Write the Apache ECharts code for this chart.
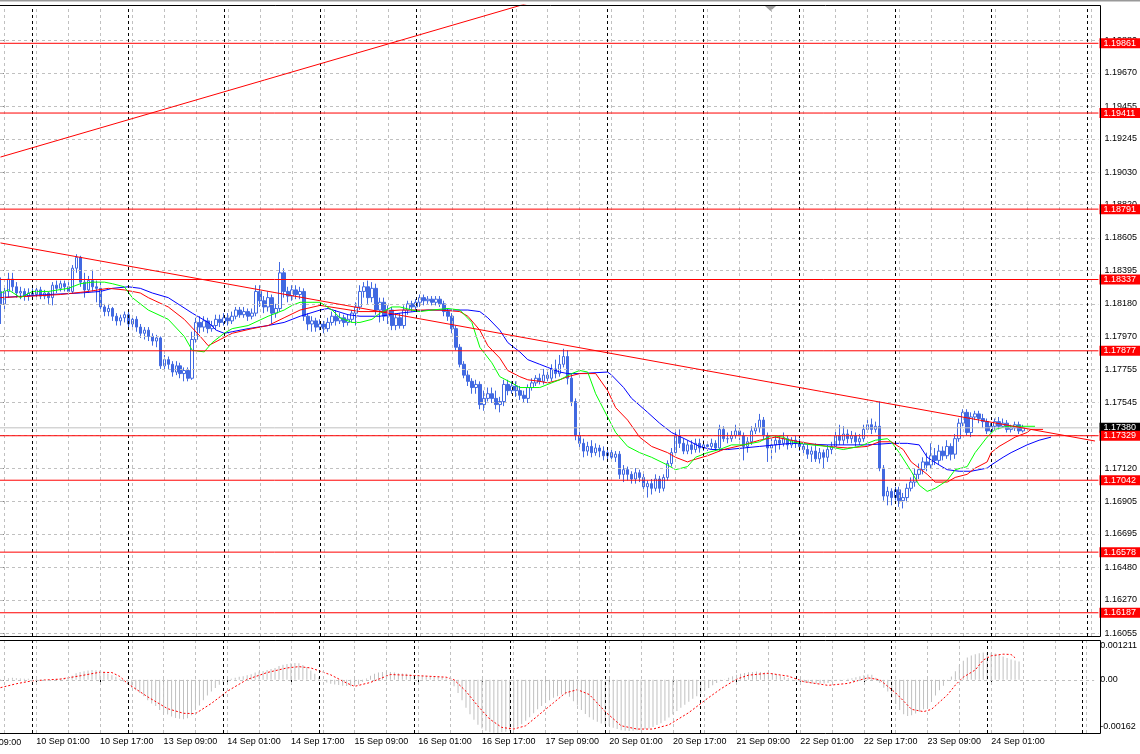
<!DOCTYPE html>
<html>
<head>
<meta charset="utf-8">
<script src="https://cdn.jsdelivr.net/npm/echarts@6/dist/echarts.min.js"></script>
<style>html,body{margin:0;padding:0;background:#fff;}#c{width:1140px;height:754px;}</style>
</head>
<body>
<div id="c"></div>
<script>
// ---------- DATA (EURUSD H1, bar index 0 = 9 Sep 16:00) ----------
const opens = [
1.1826,1.1818,1.1826,1.1834,1.1829,1.1825,1.1826,1.1823,1.1825,1.1824,
1.1827,1.1823,1.1825,1.1822,1.1830,1.1828,1.1831,1.1829,1.1826,1.1841,
1.1848,1.1832,1.1827,1.1833,1.1829,1.1828,1.1816,1.1813,1.1815,1.1810,
1.1807,1.1809,1.1811,1.1805,1.1808,1.1803,1.1799,1.1801,1.1797,1.1794,
1.1796,1.1778,1.1782,1.1779,1.1774,1.1778,1.1773,1.1775,1.1770,1.1795,
1.1806,1.1803,1.1807,1.1802,1.1804,1.1808,1.1806,1.1809,1.1807,1.1810,
1.1814,1.1811,1.1813,1.1810,1.1812,1.1826,1.1820,1.1816,1.1822,1.1812,
1.1815,1.1838,1.1826,1.1823,1.1827,1.1824,1.1826,1.1810,1.1805,1.1807,
1.1803,1.1805,1.1802,1.1806,1.1810,1.1807,1.1809,1.1806,1.1808,1.1812,
1.1816,1.1826,1.1829,1.1822,1.1828,1.1814,1.1819,1.1810,1.1814,1.1804,
1.1809,1.1804,1.1814,1.1818,1.1816,1.1819,1.1822,1.1820,1.1821,1.1819,
1.1821,1.1818,1.1813,1.1810,1.1802,1.1790,1.1779,1.1772,1.1768,1.1764,
1.1766,1.1753,1.1757,1.1760,1.1757,1.1753,1.1755,1.1766,1.1762,1.1765,
1.1762,1.1759,1.1757,1.1764,1.1767,1.1770,1.1768,1.1772,1.1770,1.1776,
1.1773,1.1779,1.1784,1.1770,1.1755,1.1733,1.1728,1.1723,1.1726,1.1722,
1.1725,1.1723,1.1720,1.1722,1.1719,1.1721,1.1708,1.1711,1.1708,1.1705,
1.1709,1.1706,1.1700,1.1702,1.1699,1.1705,1.1699,1.1706,1.1715,1.1722,
1.1733,1.1728,1.1723,1.1727,1.1724,1.1728,1.1725,1.1727,1.1726,1.1728,
1.1725,1.1737,1.1731,1.1731,1.1733,1.1736,1.1733,1.1726,1.1729,1.1736,
1.1738,1.1743,1.1733,1.1725,1.1727,1.1730,1.1728,1.1731,1.1727,1.1730,
1.1728,1.1726,1.1724,1.1721,1.1723,1.1718,1.1722,1.1719,1.1724,1.1726,
1.1733,1.1730,1.1734,1.1731,1.1733,1.1729,1.1731,1.1737,1.1740,1.1737,
1.1739,1.1712,1.1694,1.1697,1.1693,1.1698,1.1691,1.1693,1.1699,1.1703,
1.1708,1.1711,1.1716,1.1714,1.1720,1.1717,1.1723,1.1720,1.1726,1.1721,
1.1731,1.1741,1.1748,1.1735,1.1745,1.1747,1.1744,1.1742,1.1736,1.1739,
1.1742,1.1739,1.1741,1.1737,1.1738,1.1740,1.1736];
const highs = [
1.1835,1.1830,1.1838,1.1838,1.1832,1.1829,1.1828,1.1828,1.1828,1.1829,
1.1829,1.1827,1.1826,1.1832,1.1833,1.1833,1.1833,1.1832,1.1843,1.1850,
1.1849,1.1838,1.1836,1.1840,1.1833,1.1834,1.1818,1.1818,1.1816,1.1812,
1.1811,1.1813,1.1813,1.1810,1.1810,1.1805,1.1803,1.1803,1.1799,1.1798,
1.1797,1.1785,1.1784,1.1781,1.1781,1.1780,1.1777,1.1777,1.1800,1.1809,
1.1810,1.1810,1.1809,1.1807,1.1811,1.1811,1.1812,1.1812,1.1813,1.1816,
1.1816,1.1816,1.1815,1.1815,1.1830,1.1830,1.1823,1.1826,1.1824,1.1818,
1.1845,1.1841,1.1829,1.1830,1.1830,1.1829,1.1828,1.1812,1.1810,1.1809,
1.1808,1.1807,1.1809,1.1813,1.1814,1.1812,1.1811,1.1811,1.1814,1.1819,
1.1830,1.1832,1.1833,1.1832,1.1831,1.1822,1.1822,1.1817,1.1816,1.1812,
1.1812,1.1817,1.1820,1.1820,1.1821,1.1824,1.1824,1.1823,1.1823,1.1823,
1.1823,1.1820,1.1815,1.1812,1.1804,1.1792,1.1781,1.1775,1.1770,1.1769,
1.1768,1.1762,1.1764,1.1764,1.1762,1.1758,1.1769,1.1769,1.1768,1.1768,
1.1765,1.1762,1.1766,1.1770,1.1772,1.1773,1.1776,1.1776,1.1779,1.1782,
1.1785,1.1789,1.1788,1.1773,1.1757,1.1738,1.1731,1.1729,1.1730,1.1728,
1.1727,1.1726,1.1725,1.1724,1.1723,1.1723,1.1714,1.1713,1.1710,1.1712,
1.1711,1.1709,1.1704,1.1705,1.1708,1.1707,1.1708,1.1717,1.1725,1.1736,
1.1737,1.1731,1.1730,1.1730,1.1731,1.1731,1.1730,1.1729,1.1731,1.1730,
1.1740,1.1739,1.1735,1.1736,1.1740,1.1738,1.1735,1.1732,1.1739,1.1741,
1.1747,1.1745,1.1735,1.1731,1.1733,1.1733,1.1735,1.1733,1.1732,1.1733,
1.1731,1.1728,1.1727,1.1726,1.1728,1.1725,1.1724,1.1727,1.1729,1.1736,
1.1740,1.1739,1.1737,1.1736,1.1735,1.1734,1.1740,1.1743,1.1744,1.1742,
1.1755,1.1714,1.1700,1.1699,1.1700,1.1700,1.1696,1.1702,1.1706,1.1712,
1.1715,1.1719,1.1722,1.1728,1.1725,1.1727,1.1726,1.1730,1.1728,1.1734,
1.1744,1.1750,1.1750,1.1748,1.1749,1.1749,1.1747,1.1744,1.1741,1.1744,
1.1745,1.1744,1.1743,1.1740,1.1742,1.1742,1.1740];
const lows = [
1.1805,1.1814,1.1822,1.1826,1.1822,1.1821,1.1820,1.1820,1.1821,1.1822,
1.1821,1.1821,1.1818,1.1817,1.1825,1.1826,1.1826,1.1824,1.1825,1.1838,
1.1829,1.1822,1.1825,1.1826,1.1819,1.1813,1.1810,1.1810,1.1807,1.1804,
1.1804,1.1806,1.1802,1.1801,1.1800,1.1796,1.1795,1.1794,1.1791,1.1790,
1.1776,1.1775,1.1776,1.1771,1.1772,1.1770,1.1768,1.1768,1.1769,1.1793,
1.1799,1.1800,1.1799,1.1800,1.1801,1.1803,1.1804,1.1804,1.1805,1.1808,
1.1809,1.1809,1.1807,1.1808,1.1810,1.1816,1.1812,1.1813,1.1805,1.1809,
1.1813,1.1822,1.1819,1.1820,1.1821,1.1821,1.1807,1.1801,1.1800,1.1800,
1.1801,1.1799,1.1800,1.1804,1.1804,1.1805,1.1803,1.1804,1.1806,1.1804,
1.1814,1.1822,1.1818,1.1819,1.1811,1.1806,1.1807,1.1805,1.1801,1.1801,
1.1802,1.1802,1.1811,1.1813,1.1814,1.1816,1.1817,1.1818,1.1817,1.1817,
1.1816,1.1810,1.1807,1.1799,1.1788,1.1777,1.1770,1.1765,1.1760,1.1760,
1.1750,1.1749,1.1755,1.1754,1.1750,1.1748,1.1752,1.1759,1.1760,1.1758,
1.1756,1.1754,1.1754,1.1762,1.1765,1.1766,1.1766,1.1767,1.1768,1.1770,
1.1771,1.1777,1.1766,1.1752,1.1730,1.1725,1.1719,1.1720,1.1719,1.1720,
1.1719,1.1717,1.1717,1.1716,1.1716,1.1705,1.1703,1.1704,1.1702,1.1702,
1.1703,1.1697,1.1693,1.1695,1.1697,1.1696,1.1697,1.1704,1.1713,1.1720,
1.1725,1.1721,1.1721,1.1721,1.1722,1.1722,1.1723,1.1723,1.1724,1.1723,
1.1723,1.1729,1.1728,1.1729,1.1731,1.1730,1.1717,1.1722,1.1727,1.1734,
1.1735,1.1730,1.1716,1.1718,1.1722,1.1724,1.1726,1.1724,1.1725,1.1725,
1.1723,1.1721,1.1718,1.1716,1.1716,1.1715,1.1712,1.1716,1.1721,1.1724,
1.1727,1.1727,1.1728,1.1728,1.1726,1.1727,1.1729,1.1735,1.1734,1.1735,
1.1710,1.1691,1.1688,1.1688,1.1691,1.1687,1.1686,1.1690,1.1697,1.1700,
1.1705,1.1708,1.1710,1.1712,1.1714,1.1714,1.1717,1.1718,1.1717,1.1718,
1.1729,1.1739,1.1733,1.1732,1.1743,1.1741,1.1738,1.1734,1.1735,1.1737,
1.1737,1.1738,1.1735,1.1735,1.1736,1.1734,1.1735];
const closes = [
1.1818,1.1826,1.1834,1.1829,1.1825,1.1826,1.1823,1.1825,1.1824,1.1827,
1.1823,1.1825,1.1822,1.1830,1.1828,1.1831,1.1829,1.1826,1.1841,1.1848,
1.1832,1.1827,1.1833,1.1829,1.1828,1.1816,1.1813,1.1815,1.1810,1.1807,
1.1809,1.1811,1.1805,1.1808,1.1803,1.1799,1.1801,1.1797,1.1794,1.1796,
1.1778,1.1782,1.1779,1.1774,1.1778,1.1773,1.1775,1.1770,1.1795,1.1806,
1.1803,1.1807,1.1802,1.1804,1.1808,1.1806,1.1809,1.1807,1.1810,1.1814,
1.1811,1.1813,1.1810,1.1812,1.1826,1.1820,1.1816,1.1822,1.1812,1.1815,
1.1838,1.1826,1.1823,1.1827,1.1824,1.1826,1.1810,1.1805,1.1807,1.1803,
1.1805,1.1802,1.1806,1.1810,1.1807,1.1809,1.1806,1.1808,1.1812,1.1816,
1.1826,1.1829,1.1822,1.1828,1.1814,1.1819,1.1810,1.1814,1.1804,1.1809,
1.1804,1.1814,1.1818,1.1816,1.1819,1.1822,1.1820,1.1821,1.1819,1.1821,
1.1818,1.1813,1.1810,1.1802,1.1790,1.1779,1.1772,1.1768,1.1764,1.1766,
1.1753,1.1757,1.1760,1.1757,1.1753,1.1755,1.1766,1.1762,1.1765,1.1762,
1.1759,1.1757,1.1764,1.1767,1.1770,1.1768,1.1772,1.1770,1.1776,1.1773,
1.1779,1.1784,1.1770,1.1755,1.1733,1.1728,1.1723,1.1726,1.1722,1.1725,
1.1723,1.1720,1.1722,1.1719,1.1721,1.1708,1.1711,1.1708,1.1705,1.1709,
1.1706,1.1700,1.1702,1.1699,1.1705,1.1699,1.1706,1.1715,1.1722,1.1733,
1.1728,1.1723,1.1727,1.1724,1.1728,1.1725,1.1727,1.1726,1.1728,1.1725,
1.1737,1.1731,1.1731,1.1733,1.1736,1.1733,1.1726,1.1729,1.1736,1.1738,
1.1743,1.1733,1.1725,1.1727,1.1730,1.1728,1.1731,1.1727,1.1730,1.1728,
1.1726,1.1724,1.1721,1.1723,1.1718,1.1722,1.1719,1.1724,1.1726,1.1733,
1.1730,1.1734,1.1731,1.1733,1.1729,1.1731,1.1737,1.1740,1.1737,1.1739,
1.1712,1.1694,1.1697,1.1693,1.1698,1.1691,1.1693,1.1699,1.1703,1.1708,
1.1711,1.1716,1.1714,1.1720,1.1717,1.1723,1.1720,1.1726,1.1721,1.1731,
1.1741,1.1748,1.1735,1.1745,1.1747,1.1744,1.1742,1.1736,1.1739,1.1742,
1.1739,1.1741,1.1737,1.1738,1.1740,1.1736,1.1738];

// Alligator lines: [bar, price]
const jawPts = [[0,1.1822],[12,1.1824],[20,1.1825],[25,1.1826],[28,1.1828],[32,1.1829],[35,1.1828],[38,1.1825],[42,1.1822],[45,1.1817],[48,1.1812],[52,1.1806],[54,1.1801],[56,1.1799],[58,1.1800],[62,1.1802],[67,1.1804],[71,1.1806],[75,1.1810],[80,1.1814],[82,1.1815],[87,1.1811],[90,1.1810],[95,1.1810],[100,1.1812],[107,1.1814],[117,1.1814],[120,1.1813],[122,1.1809],[125,1.1801],[127,1.1793],[130,1.1787],[132,1.1782],[135,1.1779],[137,1.1777],[140,1.1774],[142,1.1773],[145,1.1773],[152,1.1774],[153,1.1772],[156,1.1764],[158,1.1757],[162,1.1748],[165,1.1741],[168,1.1735],[172,1.1730],[175,1.1726],[178,1.1724],[182,1.1724],[190,1.1726],[198,1.1728],[207,1.1727],[217,1.1727],[223,1.1728],[227,1.1728],[230,1.1727],[232,1.1719],[235,1.1714],[237,1.1711],[240,1.1710],[243,1.1710],[247,1.1712],[248,1.1714],[251,1.1719],[253,1.1722],[257,1.1727],[260,1.1730],[263,1.1732]];
const teethPts = [[0,1.1822],[8,1.1823],[15,1.1824],[22,1.1826],[27,1.1828],[31,1.1827],[35,1.1825],[37,1.1822],[42,1.1816],[46,1.1808],[50,1.1797],[52,1.1791],[55,1.1795],[58,1.1799],[63,1.1802],[67,1.1804],[71,1.1809],[75,1.1814],[80,1.1817],[85,1.1815],[90,1.1813],[95,1.1813],[100,1.1814],[105,1.1814],[110,1.1814],[115,1.1813],[117,1.1810],[120,1.1801],[122,1.1791],[125,1.1783],[127,1.1775],[130,1.1771],[132,1.1769],[135,1.1768],[137,1.1767],[140,1.1769],[142,1.1771],[145,1.1773],[149,1.1773],[152,1.1762],[154,1.1751],[157,1.1743],[160,1.1732],[163,1.1726],[167,1.1722],[169,1.1719],[172,1.1716],[173,1.1717],[177,1.1720],[181,1.1724],[186,1.1727],[190,1.1730],[194,1.1732],[200,1.1729],[207,1.1726],[212,1.1725],[217,1.1726],[220,1.1729],[223,1.1729],[226,1.1724],[228,1.1716],[232,1.1708],[234,1.1703],[237,1.1703],[239,1.1706],[242,1.1708],[244,1.1712],[247,1.1716],[248,1.1722],[250,1.1726],[252,1.1729],[254,1.1732],[257,1.1735],[258,1.1737],[261,1.1737]];
const lipsPts = [[0,1.1825],[2,1.1827],[5,1.1822],[8,1.1826],[12,1.1826],[17,1.1828],[20,1.1831],[23,1.1832],[26,1.1832],[28,1.1831],[31,1.1829],[33,1.1822],[37,1.1814],[42,1.1808],[46,1.1797],[48,1.1788],[51,1.1787],[53,1.1793],[56,1.1799],[58,1.1802],[62,1.1804],[67,1.1810],[71,1.1814],[73,1.1817],[75,1.1819],[78,1.1819],[80,1.1819],[83,1.1814],[85,1.1809],[88,1.1806],[90,1.1806],[93,1.1808],[95,1.1812],[98,1.1816],[100,1.1816],[103,1.1814],[105,1.1813],[108,1.1814],[112,1.1815],[115,1.1814],[118,1.1806],[120,1.1790],[123,1.1780],[125,1.1771],[128,1.1767],[130,1.1764],[133,1.1764],[135,1.1764],[138,1.1767],[140,1.1769],[143,1.1773],[145,1.1775],[147,1.1774],[149,1.1760],[152,1.1745],[154,1.1735],[157,1.1726],[160,1.1722],[163,1.1719],[167,1.1714],[169,1.1711],[172,1.1713],[174,1.1719],[177,1.1722],[180,1.1724],[183,1.1727],[186,1.1727],[190,1.1729],[193,1.1733],[196,1.1732],[198,1.1729],[203,1.1727],[207,1.1726],[211,1.1724],[215,1.1726],[219,1.1730],[222,1.1731],[223,1.1729],[225,1.1722],[228,1.1710],[230,1.1701],[232,1.1697],[234,1.1699],[237,1.1704],[239,1.1711],[242,1.1713],[244,1.1722],[247,1.1732],[249,1.1737],[252,1.1739],[255,1.1739],[259,1.1739]];

// MACD histogram (one per bar) and signal line
const macdHist = [
0.00002,0.00003,0.00005,0.00006,0.00005,0.00004,0.00003,0.00003,0.00002,0.00002,
0.00001,0.00001,0.00000,0.00001,0.00003,0.00004,0.00005,0.00006,0.00012,0.00020,
0.00024,0.00026,0.00028,0.00030,0.00029,0.00028,0.00024,0.00019,0.00014,0.00009,
0.00003,-0.00006,-0.00015,-0.00024,-0.00032,-0.00040,-0.00050,-0.00062,-0.00072,-0.00080,
-0.00092,-0.00100,-0.00106,-0.00112,-0.00116,-0.00119,-0.00120,-0.00117,-0.00108,-0.00093,
-0.00078,-0.00062,-0.00048,-0.00036,-0.00025,-0.00015,-0.00008,-0.00002,0.00003,0.00006,
0.00009,0.00011,0.00014,0.00017,0.00022,0.00025,0.00027,0.00030,0.00033,0.00036,
0.00042,0.00046,0.00048,0.00050,0.00051,0.00050,0.00045,0.00038,0.00028,0.00018,
0.00008,-0.00002,-0.00008,-0.00012,-0.00014,-0.00016,-0.00018,-0.00019,-0.00020,-0.00019,
-0.00014,-0.00006,0.00004,0.00012,0.00018,0.00022,0.00024,0.00025,0.00024,0.00022,
0.00020,0.00019,0.00018,0.00016,0.00014,0.00013,0.00012,0.00011,0.00010,0.00010,
0.00009,0.00008,0.00005,-0.00003,-0.00020,-0.00040,-0.00062,-0.00085,-0.00105,-0.00122,
-0.00137,-0.00148,-0.00155,-0.00160,-0.00161,-0.00162,-0.00160,-0.00158,-0.00155,-0.00150,
-0.00143,-0.00135,-0.00125,-0.00114,-0.00102,-0.00090,-0.00080,-0.00070,-0.00062,-0.00055,
-0.00050,-0.00045,-0.00045,-0.00052,-0.00065,-0.00078,-0.00092,-0.00104,-0.00114,-0.00122,
-0.00128,-0.00133,-0.00137,-0.00141,-0.00146,-0.00150,-0.00154,-0.00155,-0.00156,-0.00155,
-0.00154,-0.00152,-0.00150,-0.00148,-0.00144,-0.00138,-0.00132,-0.00125,-0.00115,-0.00105,
-0.00095,-0.00085,-0.00076,-0.00067,-0.00058,-0.00050,-0.00042,-0.00033,-0.00025,-0.00017,
-0.00010,-0.00004,0.00001,0.00006,0.00011,0.00015,0.00018,0.00021,0.00023,0.00024,
0.00025,0.00024,0.00022,0.00021,0.00020,0.00017,0.00013,0.00009,0.00005,0.00001,
-0.00003,-0.00006,-0.00008,-0.00010,-0.00011,-0.00012,-0.00012,-0.00011,-0.00010,-0.00007,
-0.00004,-0.00002,0.00001,0.00003,0.00005,0.00008,0.00011,0.00014,0.00016,0.00015,
0.00006,-0.00010,-0.00024,-0.00036,-0.00055,-0.00074,-0.00092,-0.00105,-0.00110,-0.00108,
-0.00103,-0.00097,-0.00090,-0.00083,-0.00068,-0.00048,-0.00032,-0.00018,-0.00004,0.00010,
0.00026,0.00044,0.00058,0.00068,0.00074,0.00078,0.00081,0.00083,0.00083,0.00082,
0.00080,0.00076,0.00071,0.00066,0.00062,0.00059,0.00056];
const macdSignal = [[0,-0.00024],[4,-0.00012],[8,-0.00003],[15,0.00002],[20,0.00012],[25,0.00023],[28,0.00022],[30,0.00010],[32,-0.00012],[37,-0.00052],[42,-0.00088],[46,-0.00102],[49,-0.00103],[53,-0.00072],[57,-0.00035],[62,0.00001],[67,0.00022],[72,0.00036],[75,0.00040],[78,0.00036],[83,0.00015],[87,-0.00010],[89,-0.00020],[93,-0.00008],[98,0.00016],[104,0.00013],[112,0.00008],[114,0.00000],[117,-0.00035],[120,-0.00080],[123,-0.00120],[126,-0.00145],[129,-0.00150],[132,-0.00140],[135,-0.00110],[139,-0.00070],[142,-0.00040],[145,-0.00030],[148,-0.00045],[152,-0.00097],[156,-0.00140],[160,-0.00150],[164,-0.00150],[168,-0.00137],[173,-0.00100],[177,-0.00063],[181,-0.00028],[185,0.00002],[188,0.00014],[193,0.00020],[198,0.00011],[202,-0.00006],[208,-0.00017],[213,-0.00011],[218,0.00006],[221,0.00000],[225,-0.00040],[229,-0.00090],[232,-0.00097],[234,-0.00090],[238,-0.00046],[240,-0.00016],[242,0.00008],[245,0.00030],[247,0.00060],[249,0.00073],[252,0.00078],[254,0.00077],[255,0.00067]];

// Horizontal levels, bid line, trend lines
const levels = [1.19861, 1.19411, 1.18791, 1.18337, 1.17877, 1.17329, 1.17042, 1.16578, 1.16187];
const bidPrice = 1.17380;
const trendDown = [[0, 1.18573], [274, 1.17295]];
const trendUp = [[0, 1.19127], [274, 1.21187]];

// Axis ticks / labels
const priceTicks = [1.19880,1.19670,1.19455,1.19245,1.19030,1.18820,1.18605,1.18395,1.18180,1.17970,1.17755,1.17545,1.17335,1.17120,1.16905,1.16695,1.16480,1.16270,1.16055];
const macdTicks = [0.001211, 0, -0.00162];
const macdTickLabels = ['0.001211', '0.00', '-0.00162'];
const labelBars = [-7,9,25,41,57,73,89,105,121,137,153,169,185,201,217,233,249];
const labelTexts = ['9 Sep 09:00','10 Sep 01:00','10 Sep 17:00','13 Sep 09:00','14 Sep 01:00','14 Sep 17:00','15 Sep 09:00','16 Sep 01:00','16 Sep 17:00','17 Sep 09:00','20 Sep 01:00','20 Sep 17:00','21 Sep 09:00','22 Sep 01:00','22 Sep 17:00','23 Sep 09:00','24 Sep 01:00'];
const gridBars = [1,9,17,25,33,41,49,57,65,73,81,89,97,105,113,121,129,137,145,153,161,169,177,185,193,201,209,217,225,233,241,249,257,265,273];
const separatorBars = [8,32,56,80,104,128,152,176,200,224,248,272];

// ---------- CHART ----------
const FONT = "'Liberation Sans', Arial, sans-serif";
const X_MIN = -0.125, X_MAX = 274.875;
const P_MIN = 1.16037, P_MAX = 1.20108;
const M_MIN = -0.00162, M_MAX = 0.001211;
const GRAY = '#c0c0c0';

const chart = echarts.init(document.getElementById('c'), null, {renderer: 'canvas', width: 1140, height: 754});

function vLines(bars, color) {
  return bars.map(b => ({xAxis: b, lineStyle: {color: color, type: [3, 3], width: 1}}));
}
const inLabelBars = labelBars.filter(b => b >= 0);

// a horizontal price line with a boxed price tag on the axis
function hLineSeries(name, price, color, boxColor, z) {
  return {
    type: 'line', name: name, xAxisIndex: 0, yAxisIndex: 0, z: z, silent: true,
    data: [[X_MIN, price], [X_MAX, price]], showSymbol: false, symbol: 'none',
    lineStyle: {color: color, width: 1, type: 'solid', opacity: 1},
    emphasis: {disabled: true},
    endLabel: {show: true, distance: 1, formatter: () => price.toFixed(5),
      color: '#ffffff', backgroundColor: boxColor, padding: [1, 10, 0, 4], lineHeight: 9,
      fontSize: 9, fontFamily: FONT, align: 'left', verticalAlign: 'middle'}
  };
}

const series = [
  // main grid lines
  {type: 'line', name: 'gridMain', xAxisIndex: 0, yAxisIndex: 0, data: [[X_MIN, null]], showSymbol: false, silent: true, z: 1,
   markLine: {symbol: ['none', 'none'], silent: true, animation: false, precision: 6, label: {show: false},
     data: [].concat(
       priceTicks.map(p => ({yAxis: p, lineStyle: {color: GRAY, type: [3, 3], width: 1}})),
       vLines(gridBars, GRAY),
       vLines(separatorBars, '#000')
     )}},
  // macd grid lines
  {type: 'line', name: 'gridMacd', xAxisIndex: 1, yAxisIndex: 1, data: [[X_MIN, null]], showSymbol: false, silent: true, z: 1,
   markLine: {symbol: ['none', 'none'], silent: true, animation: false, precision: 8, label: {show: false},
     data: [].concat(
       [{yAxis: 0, lineStyle: {color: GRAY, type: [3, 3], width: 1}}],
       vLines(gridBars, GRAY),
       vLines(separatorBars, '#000')
     )}},
  // candles
  {type: 'candlestick', name: 'EURUSD', xAxisIndex: 0, yAxisIndex: 0, z: 3,
   data: closes.map((c, i) => [i, opens[i], c, lows[i], highs[i]]),
   encode: {x: 0, y: [1, 2, 3, 4]},
   barWidth: 3,
   itemStyle: {color: '#ffffff', color0: '#4169e1', borderColor: '#4169e1', borderColor0: '#4169e1', borderWidth: 1}},
  // alligator
  {type: 'line', name: 'Jaw', xAxisIndex: 0, yAxisIndex: 0, data: jawPts, showSymbol: false, z: 4,
   lineStyle: {color: '#0000ff', width: 1}},
  {type: 'line', name: 'Teeth', xAxisIndex: 0, yAxisIndex: 0, data: teethPts, showSymbol: false, z: 4,
   lineStyle: {color: '#ff0000', width: 1}},
  {type: 'line', name: 'Lips', xAxisIndex: 0, yAxisIndex: 0, data: lipsPts, showSymbol: false, z: 4,
   lineStyle: {color: '#00ff00', width: 1}},
  // bid line
  hLineSeries('bid', bidPrice, GRAY, '#000000', 5),
  // trend lines
  {type: 'line', name: 'trendDown', xAxisIndex: 0, yAxisIndex: 0, data: trendDown, showSymbol: false, z: 6, clip: true,
   lineStyle: {color: '#ff0000', width: 1}},
  {type: 'line', name: 'trendUp', xAxisIndex: 0, yAxisIndex: 0, data: trendUp, showSymbol: false, z: 6, clip: true,
   lineStyle: {color: '#ff0000', width: 1}}
].concat(
  levels.map((v, k) => hLineSeries('level' + k, v, '#ff0000', '#ff0000', 7)),
  [
    // MACD
    {type: 'bar', name: 'MACD', xAxisIndex: 1, yAxisIndex: 1, z: 3, barWidth: 1,
     data: macdHist.map((v, i) => [i, v]), itemStyle: {color: GRAY}},
    {type: 'line', name: 'Signal', xAxisIndex: 1, yAxisIndex: 1, z: 4, data: macdSignal, showSymbol: false,
     lineStyle: {color: '#ff0000', width: 1, type: [2, 2]}}
  ]
);

const option = {
  animation: false,
  backgroundColor: '#ffffff',
  grid: [
    {left: 0, top: 5, width: 1100, height: 631, show: false},
    {left: 0, top: 640, width: 1100, height: 93, show: false}
  ],
  xAxis: [
    {type: 'value', gridIndex: 0, min: X_MIN, max: X_MAX,
     axisLine: {show: false}, axisTick: {show: false}, axisLabel: {show: false}, splitLine: {show: false}},
    {type: 'value', gridIndex: 1, min: X_MIN, max: X_MAX,
     axisLine: {show: false},
     axisTick: {show: true, customValues: inLabelBars, length: 3, lineStyle: {color: '#000'}},
     axisLabel: {show: true, customValues: inLabelBars, align: 'left', margin: 4,
       color: '#000', fontSize: 9, fontFamily: FONT,
       formatter: v => labelTexts[labelBars.indexOf(Math.round(v))]},
     splitLine: {show: false}}
  ],
  yAxis: [
    {type: 'value', gridIndex: 0, position: 'right', min: P_MIN, max: P_MAX,
     axisLine: {show: false},
     axisTick: {show: true, customValues: priceTicks, length: 3, lineStyle: {color: '#000'}},
     axisLabel: {show: true, customValues: priceTicks, margin: 6, color: '#000', fontSize: 9, fontFamily: FONT,
       formatter: v => Number(v).toFixed(5)},
     splitLine: {show: false}},
    {type: 'value', gridIndex: 1, position: 'right', min: M_MIN, max: M_MAX,
     axisLine: {show: false},
     axisTick: {show: true, customValues: macdTicks, length: 3, lineStyle: {color: '#000'}},
     axisLabel: {show: true, customValues: macdTicks, margin: 6, color: '#000', fontSize: 9, fontFamily: FONT,
       formatter: v => {
         let k = 1;
         if (v > 0.0001) k = 0; else if (v < -0.0001) k = 2;
         const t = macdTickLabels[k];
         return k === 0 ? '{t|' + t + '}' : (k === 2 ? '{b|' + t + '}' : t);
       },
       rich: {
         t: {padding: [12, 0, 0, 0], fontSize: 9, fontFamily: FONT, color: '#000'},
         b: {padding: [0, 0, 12, 0], fontSize: 9, fontFamily: FONT, color: '#000'}
       }},
     splitLine: {show: false}}
  ],
  series: series,
  graphic: [
    {type: 'rect', id: 'topA', shape: {x: 0, y: 0, width: 1140, height: 1}, style: {fill: '#999999'}, silent: true},
    {type: 'rect', id: 'topB', shape: {x: 0, y: 1, width: 1140, height: 1}, style: {fill: '#cccccc'}, silent: true},
    {type: 'polygon', id: 'shiftMark', shape: {points: [[765, 6], [776, 6], [770.5, 11]]}, style: {fill: '#a0a0a0'}, silent: true},
    {type: 'line', id: 'f1', shape: {x1: 0, y1: 5.5, x2: 1100.5, y2: 5.5}, style: {stroke: '#000', lineWidth: 1}, silent: true, z: 50},
    {type: 'line', id: 'f2', shape: {x1: 0, y1: 636.5, x2: 1100.5, y2: 636.5}, style: {stroke: '#000', lineWidth: 1}, silent: true, z: 50},
    {type: 'line', id: 'f3', shape: {x1: 1100.5, y1: 5.5, x2: 1100.5, y2: 636.5}, style: {stroke: '#000', lineWidth: 1}, silent: true, z: 50},
    {type: 'line', id: 'f4', shape: {x1: 0, y1: 640.5, x2: 1100.5, y2: 640.5}, style: {stroke: '#000', lineWidth: 1}, silent: true, z: 50},
    {type: 'line', id: 'f5', shape: {x1: 0, y1: 733.5, x2: 1100.5, y2: 733.5}, style: {stroke: '#000', lineWidth: 1}, silent: true, z: 50},
    {type: 'line', id: 'f6', shape: {x1: 1100.5, y1: 640.5, x2: 1100.5, y2: 733.5}, style: {stroke: '#000', lineWidth: 1}, silent: true, z: 50}
  ]
};
chart.setOption(option);

// partially visible first time label (left of the plot start)
const xFirst = chart.convertToPixel({xAxisIndex: 1}, labelBars[0]);
chart.setOption({graphic: [
  {type: 'text', id: 'firstLabel', x: xFirst, y: 742.5, silent: true,
   style: {text: labelTexts[0], fill: '#000', font: '9px ' + FONT, textAlign: 'left', textVerticalAlign: 'middle'}}
]});
</script>
</body>
</html>
